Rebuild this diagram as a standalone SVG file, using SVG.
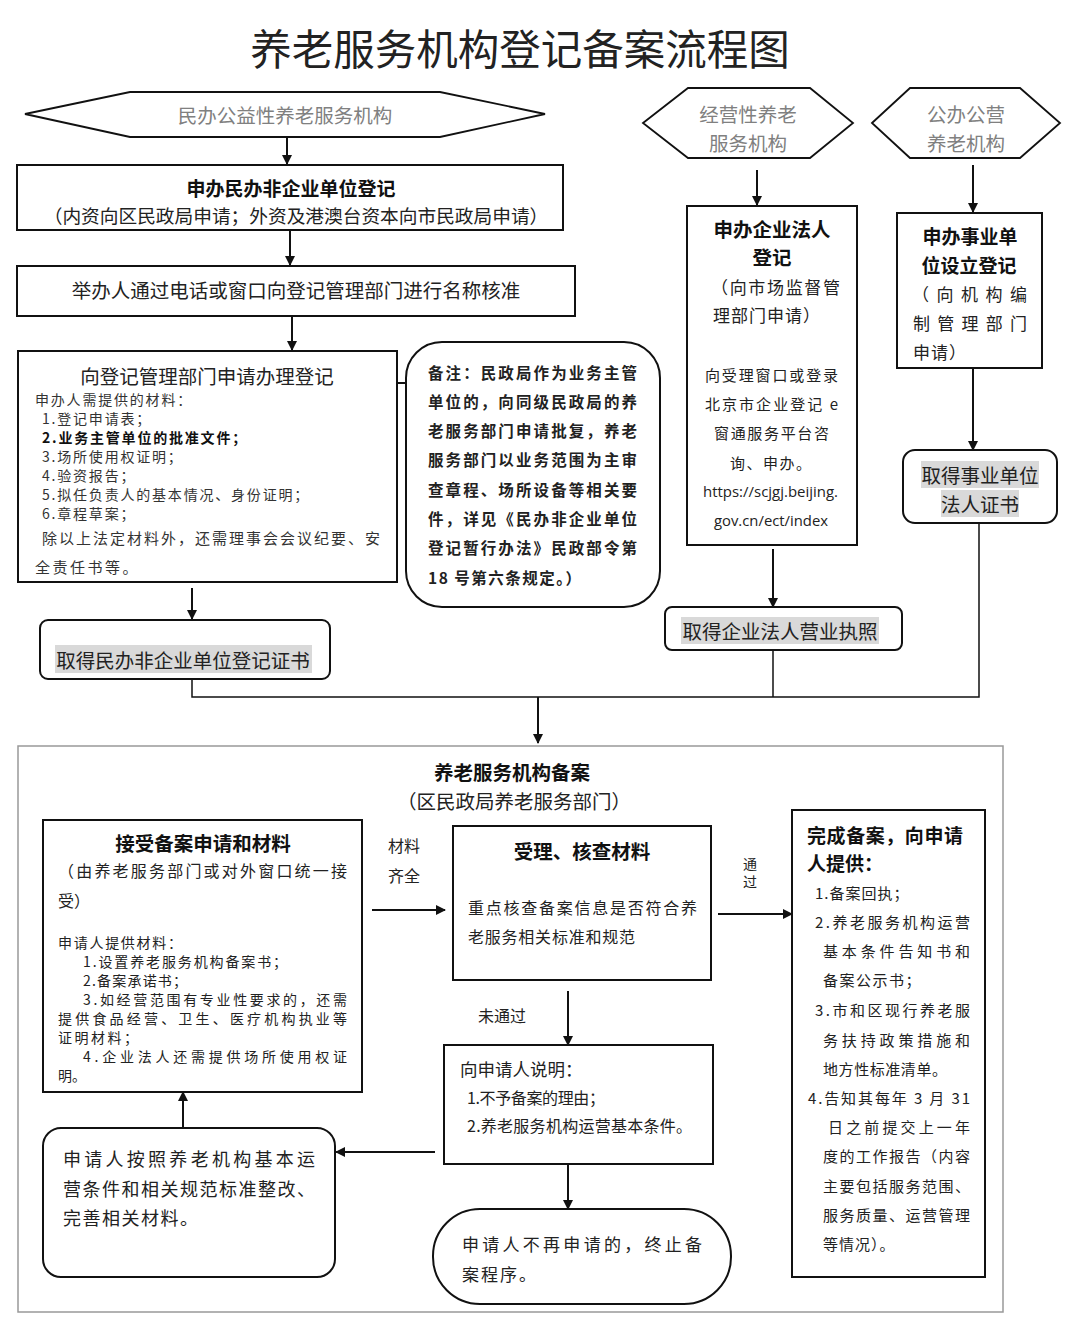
<svg xmlns="http://www.w3.org/2000/svg" width="1080" height="1334" viewBox="0 0 1080 1334">
<style>
.box{fill:#fff;stroke:#111;stroke-width:2}
.hex{fill:#fff;stroke:#111;stroke-width:1.8}
.outer{fill:#fff;stroke:#999;stroke-width:1.5}
.ln{fill:none;stroke:#111;stroke-width:2}
.thin{fill:none;stroke:#111;stroke-width:1.5}
.hl{fill:#d9d9d9}
text{font-family:"Noto Sans CJK SC","Noto Sans",sans-serif;fill:#222;dominant-baseline:central}
.c{text-anchor:middle}
.b{font-weight:bold;fill:#111}
.g{fill:#808080}
.s15{font-size:15px}
.s16{font-size:16px}
.s17{font-size:17px}
.s18{font-size:18px}
.s19{font-size:19.5px}
.url{font-family:"Open Sans","DejaVu Sans",sans-serif;font-size:15px}
</style>
<defs>
<marker id="ah" viewBox="0 0 10 10" refX="9" refY="5" markerWidth="5.5" markerHeight="5" orient="auto" markerUnits="strokeWidth">
<path d="M0,0 L10,5 L0,10 z" fill="#111"/>
</marker>
</defs>
<rect width="1080" height="1334" fill="#fff"/>
<text x="520" y="47" class="c" style="font-size:41.5px">养老服务机构登记备案流程图</text>

<g id="outer-frame"><rect class="outer" x="18" y="746" width="985" height="566"/></g>

<g id="connectors">
<line class="ln" x1="287" y1="137" x2="287" y2="164" marker-end="url(#ah)"/>
<line class="ln" x1="290" y1="231" x2="290" y2="265" marker-end="url(#ah)"/>
<line class="ln" x1="292" y1="317" x2="292" y2="350" marker-end="url(#ah)"/>
<polyline class="ln" points="192,448 372,448 372,383 462,383"/>
<line class="ln" x1="192" y1="588" x2="192" y2="619" marker-end="url(#ah)"/>
<line class="ln" x1="757" y1="170" x2="757" y2="205" marker-end="url(#ah)"/>
<line class="ln" x1="773" y1="549" x2="773" y2="607" marker-end="url(#ah)"/>
<line class="ln" x1="973" y1="165" x2="973" y2="212" marker-end="url(#ah)"/>
<line class="ln" x1="973" y1="369" x2="973" y2="450" marker-end="url(#ah)"/>
<polyline class="thin" points="192,679 192,697 979,697 979,523"/>
<line class="thin" x1="773" y1="650" x2="773" y2="697"/>
<line class="ln" x1="538" y1="697" x2="538" y2="743" marker-end="url(#ah)"/>
<line class="ln" x1="372" y1="910" x2="445" y2="910" marker-end="url(#ah)"/>
<line class="ln" x1="718" y1="914" x2="792" y2="914" marker-end="url(#ah)"/>
<line class="ln" x1="568" y1="991" x2="568" y2="1045" marker-end="url(#ah)"/>
<line class="ln" x1="568" y1="1165" x2="568" y2="1209" marker-end="url(#ah)"/>
<line class="ln" x1="435" y1="1152" x2="336" y2="1152" marker-end="url(#ah)"/>
<line class="ln" x1="183" y1="1128" x2="183" y2="1092" marker-end="url(#ah)"/>
<text x="388" y="845" class="s16">材料</text>
<text x="388" y="875" class="s16">齐全</text>
<text x="750" y="863" class="c" style="font-size:14px">通</text>
<text x="750" y="881" class="c" style="font-size:14px">过</text>
<text x="478" y="1015" class="s16">未通过</text>
</g>

<g id="n-hex1">
<polygon class="hex" points="25,114 130,92 440,92 545,114 440,137 130,137"/>
<text x="285" y="114" class="c s19 g">民办公益性养老服务机构</text>
</g>
<g id="n-box1">
<rect class="box" x="17" y="165" width="546" height="65"/>
<text x="291" y="187" class="c b" style="font-size:19px">申办民办非企业单位登记</text>
<text x="296" y="214" class="c" style="font-size:18.7px">（内资向区民政局申请；外资及港澳台资本向市民政局申请）</text>
</g>
<g id="n-box2">
<rect class="box" x="17" y="266" width="558" height="50"/>
<text x="296" y="289" class="c s19">举办人通过电话或窗口向登记管理部门进行名称核准</text>
</g>
<g id="n-box3">
<rect class="box" x="18" y="351" width="379" height="231"/>
<text x="207" y="375" class="c s19">向登记管理部门申请办理登记</text>
<g style="font-size:14px;letter-spacing:1.8px">
<text x="35" y="399" style="fill:#333">申办人需提供的材料：</text>
<text x="42" y="418" style="fill:#333">1.登记申请表；</text>
<text x="42" y="437" class="b">2.业务主管单位的批准文件；</text>
<text x="42" y="456" style="fill:#333">3.场所使用权证明；</text>
<text x="42" y="475" style="fill:#333">4.验资报告；</text>
<text x="42" y="494" style="fill:#333">5.拟任负责人的基本情况、身份证明；</text>
<text x="42" y="513" style="fill:#333">6.章程草案；</text>
</g>
<text x="42" y="537" class="s15" style="fill:#333" textLength="338" lengthAdjust="spacing">除以上法定材料外，还需理事会会议纪要、安</text>
<text x="35" y="566" class="s15" style="fill:#333;letter-spacing:2.5px">全责任书等。</text>
</g>
<g id="n-note">
<rect class="box" x="406" y="342" width="254" height="265" rx="36"/>
<g class="b" style="font-size:15.5px">
<text x="428" y="372" textLength="209" lengthAdjust="spacing">备注：民政局作为业务主管</text>
<text x="428" y="401" textLength="209" lengthAdjust="spacing">单位的，向同级民政局的养</text>
<text x="428" y="430" textLength="209" lengthAdjust="spacing">老服务部门申请批复，养老</text>
<text x="428" y="459" textLength="209" lengthAdjust="spacing">服务部门以业务范围为主审</text>
<text x="428" y="489" textLength="209" lengthAdjust="spacing">查章程、场所设备等相关要</text>
<text x="428" y="518" textLength="209" lengthAdjust="spacing">件，详见《民办非企业单位</text>
<text x="428" y="547" textLength="209" lengthAdjust="spacing">登记暂行办法》民政部令第</text>
<text x="428" y="577" style="letter-spacing:1.5px">18 号第六条规定。）</text>
</g>
</g>
<g id="n-cert1">
<rect class="box" x="40" y="620" width="290" height="59" rx="8"/>
<rect class="hl" x="55" y="645" width="257" height="28"/>
<text x="183" y="659" class="c" style="font-size:19.5px">取得民办非企业单位登记证书</text>
</g>

<g id="n-hex2">
<polygon class="hex" points="643,123 688,88 810,88 853,123 810,158 688,158"/>
<text x="748" y="113" class="c s19 g">经营性养老</text>
<text x="748" y="142" class="c s19 g">服务机构</text>
</g>
<g id="n-box-ent">
<rect class="box" x="687" y="206" width="170" height="339"/>
<text x="772" y="228" class="c b s19">申办企业法人</text>
<text x="772" y="256" class="c b s19">登记</text>
<text x="711" y="286" class="s17" textLength="129" lengthAdjust="spacing">（向市场监督管</text>
<text x="713" y="314" class="s17" style="letter-spacing:1px">理部门申请）</text>
<text x="705" y="374" class="s15" textLength="133" lengthAdjust="spacing">向受理窗口或登录</text>
<text x="705" y="403" class="s15" textLength="133" lengthAdjust="spacing">北京市企业登记 e</text>
<text x="714" y="432" class="s15" textLength="115" lengthAdjust="spacing">窗通服务平台咨</text>
<text x="730" y="462" class="s15" style="letter-spacing:1.5px">询、申办。</text>
<text x="703" y="491" class="url" textLength="135" lengthAdjust="spacingAndGlyphs">https://scjgj.beijing.</text>
<text x="714" y="520" class="url" textLength="114" lengthAdjust="spacingAndGlyphs">gov.cn/ect/index</text>
</g>
<g id="n-cert2">
<rect class="box" x="665" y="607" width="237" height="43" rx="7"/>
<rect class="hl" x="681" y="617" width="198" height="27"/>
<text x="780" y="630" class="c s19">取得企业法人营业执照</text>
</g>

<g id="n-hex3">
<polygon class="hex" points="872,123 910,88 1020,88 1060,123 1020,158 910,158"/>
<text x="966" y="113" class="c s19 g">公办公营</text>
<text x="966" y="142" class="c s19 g">养老机构</text>
</g>
<g id="n-box-pub">
<rect class="box" x="897" y="213" width="145" height="155"/>
<text x="970" y="235" class="c b" style="font-size:19px">申办事业单</text>
<text x="969" y="264" class="c b" style="font-size:19px">位设立登记</text>
<text x="912" y="293" class="s17" textLength="115" lengthAdjust="spacing">（向机构编</text>
<text x="913" y="322" class="s17" textLength="114" lengthAdjust="spacing">制管理部门</text>
<text x="913" y="351" class="s17" style="letter-spacing:1px">申请）</text>
</g>
<g id="n-cert3">
<rect class="box" x="903" y="450" width="154" height="73" rx="12"/>
<rect class="hl" x="921" y="461" width="118" height="27"/>
<rect class="hl" x="941" y="490" width="78" height="27"/>
<text x="980" y="474" class="c s19">取得事业单位</text>
<text x="980" y="503" class="c s19">法人证书</text>
</g>

<g id="n-title-record">
<text x="512" y="771" class="c b s19">养老服务机构备案</text>
<text x="514" y="800" class="c s19">（区民政局养老服务部门）</text>
</g>
<g id="n-accept">
<rect class="box" x="43" y="820" width="319" height="272"/>
<text x="203" y="842" class="c b s19">接受备案申请和材料</text>
<text x="58" y="870" class="s16" textLength="289" lengthAdjust="spacing">（由养老服务部门或对外窗口统一接</text>
<text x="58" y="900" class="s16">受）</text>
<g style="font-size:14px">
<text x="58" y="942" textLength="124" lengthAdjust="spacing">申请人提供材料：</text>
<text x="83" y="961" textLength="204" lengthAdjust="spacing">1.设置养老服务机构备案书；</text>
<text x="83" y="980" textLength="104" lengthAdjust="spacing">2.备案承诺书；</text>
<text x="83" y="999" textLength="264" lengthAdjust="spacing">3.如经营范围有专业性要求的，还需</text>
<text x="58" y="1018" textLength="289" lengthAdjust="spacing">提供食品经营、卫生、医疗机构执业等</text>
<text x="58" y="1037" textLength="80" lengthAdjust="spacing">证明材料；</text>
<text x="83" y="1056" textLength="264" lengthAdjust="spacing">4.企业法人还需提供场所使用权证</text>
<text x="58" y="1075">明。</text>
</g>
</g>
<g id="n-check">
<rect class="box" x="453" y="826" width="258" height="154"/>
<text x="582" y="850" class="c b s19">受理、核查材料</text>
<text x="468" y="907" class="s16" textLength="229" lengthAdjust="spacing">重点核查备案信息是否符合养</text>
<text x="468" y="936" class="s16" textLength="167" lengthAdjust="spacing">老服务相关标准和规范</text>
</g>
<g id="n-done">
<rect class="box" x="792" y="810" width="193" height="467"/>
<text x="807" y="834" class="b" style="font-size:19px" textLength="156" lengthAdjust="spacing">完成备案，向申请</text>
<text x="807" y="862" class="b" style="font-size:19px">人提供：</text>
<g class="s15">
<text x="815" y="892" style="letter-spacing:1px">1.备案回执；</text>
<text x="815" y="921" textLength="155" lengthAdjust="spacing">2.养老服务机构运营</text>
<text x="823" y="950" textLength="147" lengthAdjust="spacing">基本条件告知书和</text>
<text x="823" y="979" style="letter-spacing:1.5px">备案公示书；</text>
<text x="815" y="1009" textLength="155" lengthAdjust="spacing">3.市和区现行养老服</text>
<text x="823" y="1039" textLength="147" lengthAdjust="spacing">务扶持政策措施和</text>
<text x="823" y="1068" textLength="124" lengthAdjust="spacing">地方性标准清单。</text>
<text x="808" y="1097" textLength="162" lengthAdjust="spacing">4.告知其每年 3 月 31</text>
<text x="828" y="1126" textLength="142" lengthAdjust="spacing">日之前提交上一年</text>
<text x="823" y="1155" textLength="147" lengthAdjust="spacing">度的工作报告（内容</text>
<text x="823" y="1185" textLength="147" lengthAdjust="spacing">主要包括服务范围、</text>
<text x="823" y="1214" textLength="147" lengthAdjust="spacing">服务质量、运营管理</text>
<text x="823" y="1243" style="letter-spacing:1px">等情况）。</text>
</g>
</g>
<g id="n-explain">
<rect class="box" x="444" y="1045" width="269" height="119"/>
<text x="460" y="1068" style="font-size:17.5px">向申请人说明：</text>
<text x="467" y="1097" class="s16" textLength="138" lengthAdjust="spacing">1.不予备案的理由；</text>
<text x="467" y="1125" class="s16" textLength="225" lengthAdjust="spacing">2.养老服务机构运营基本条件。</text>
</g>
<g id="n-end">
<rect class="box" x="433" y="1209" width="298" height="95" rx="47"/>
<text x="462" y="1243" class="s17" textLength="240" lengthAdjust="spacing">申请人不再申请的，终止备</text>
<text x="462" y="1273" class="s17" style="letter-spacing:2px">案程序。</text>
</g>
<g id="n-revise">
<rect class="box" x="43" y="1128" width="292" height="149" rx="18"/>
<text x="63" y="1158" class="s18" textLength="252" lengthAdjust="spacing">申请人按照养老机构基本运</text>
<text x="63" y="1188" class="s18" textLength="252" lengthAdjust="spacing">营条件和相关规范标准整改、</text>
<text x="63" y="1217" class="s18" style="letter-spacing:1.5px">完善相关材料。</text>
</g>
</svg>
